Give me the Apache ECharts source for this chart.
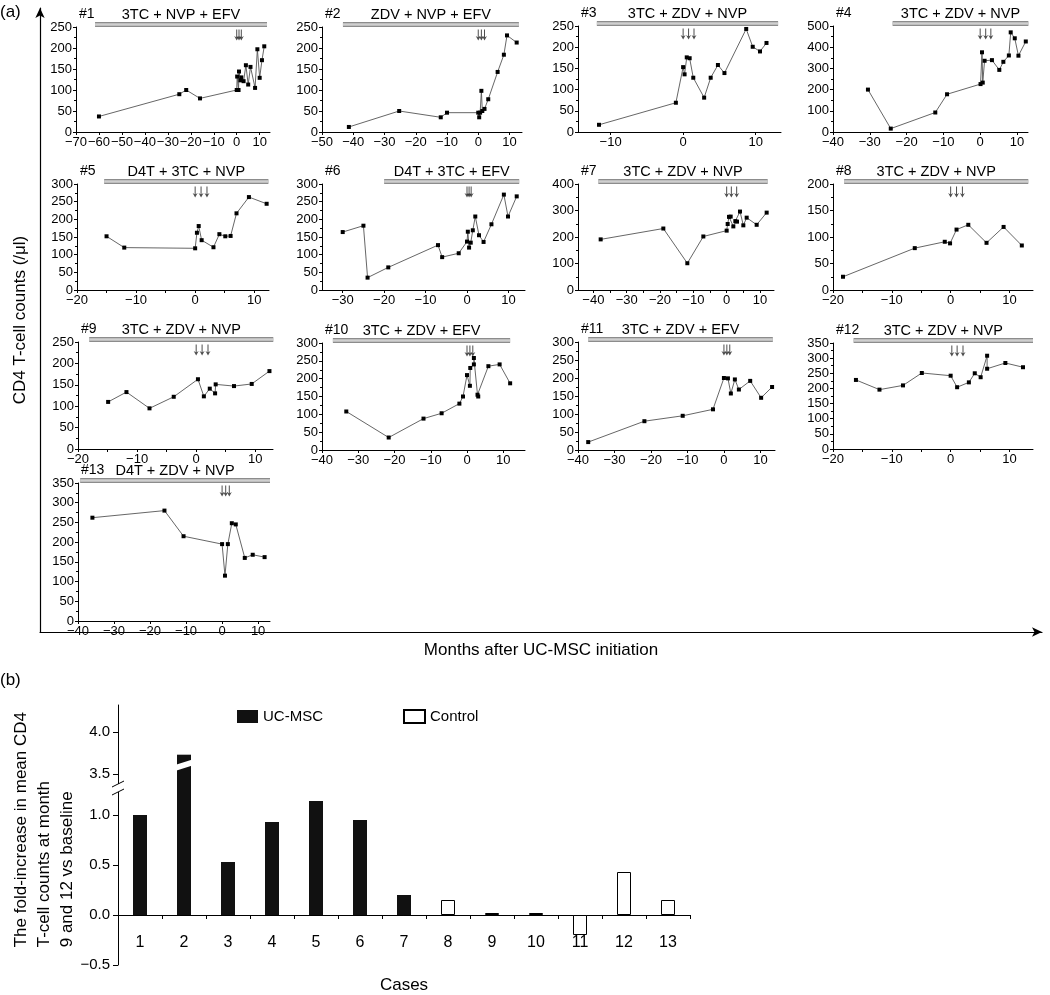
<!DOCTYPE html>
<html><head><meta charset="utf-8">
<script src="https://cdn.jsdelivr.net/npm/echarts@6/dist/echarts.min.js"></script>
<style>html,body{margin:0;padding:0;background:#fff}#c{width:1050px;height:995px}</style>
</head><body><div id="c"></div>
<script>
// ================= DATA =================
const caseIds = ['#1','#2','#3','#4','#5','#6','#7','#8','#9','#10','#11','#12','#13'];
const regimens = ['3TC + NVP + EFV','ZDV + NVP + EFV','3TC + ZDV + NVP','3TC + ZDV + NVP',
  'D4T + 3TC + NVP','D4T + 3TC + EFV','3TC + ZDV + NVP','3TC + ZDV + NVP',
  '3TC + ZDV + NVP','3TC + ZDV + EFV','3TC + ZDV + EFV','3TC + ZDV + NVP','D4T + ZDV + NVP'];

const months1 = [-60,-25,-22,-16,0,0.2,0.8,1,1.6,2,3,4,5,6,8,9,10,11,12];
const cd4_1   = [37,90,100,80,100,132,100,144,123,130,121,159,113,155,105,197,129,171,204];
const months2 = [-41.4,-25.3,-12,-10,0,0.3,0.6,1,1.3,2,3.2,6.2,8.2,9.2,12.3];
const cd4_2   = [12,50,35,46,46,35,46,98,50,55,78,143,184,230,213];
const months3 = [-11.6,-1,0,0.2,0.5,0.9,1.4,2.9,3.8,4.8,5.7,8.7,9.6,10.6,11.5];
const cd4_3   = [17,69,153,136,176,174,128,81,128,158,139,243,201,190,210];
const months4 = [-30.5,-24.3,-12.2,-9,0.1,0.5,0.7,1.2,3.2,5.2,6.3,7.8,8.3,9.4,10.4,12.4];
const cd4_4   = [200,16,92,178,226,376,233,336,339,293,331,361,470,442,360,427];
const months5 = [-15,-12,0,0.3,0.6,1.1,3.1,4.1,5.1,6,7,9.1,12.1];
const cd4_5   = [152,120,118,162,181,141,121,158,152,153,217,263,244];
const months6 = [-30,-25,-24,-19,-7,-6,-2,0,0.2,0.5,0.9,1.4,2,2.9,4,5.9,8.9,9.9,12];
const cd4_6   = [164,182,35,64,127,93,104,137,165,120,134,169,208,155,136,186,270,208,265];
const months7 = [-37.8,-19,-11.8,-7,0,0.3,0.7,1.2,2,2.6,3.1,4,5,6,9,12];
const cd4_7   = [191,232,101,202,224,249,276,277,240,260,258,296,244,273,246,292];
const months8 = [-18.3,-6.1,-1,-0.1,1,3,6.1,9,12.1];
const cd4_8   = [25,79,91,88,114,123,89,119,84];
const months9 = [-14.9,-11.8,-7.9,-3.8,0.3,1.3,2.3,3.2,3.3,6.4,9.4,12.4];
const cd4_9   = [110,133,95,122,163,123,141,130,151,147,152,182];
const months10 = [-33.3,-21.6,-12,-7,-2.1,-1.1,0,0.8,0.9,1.9,1.9,2.9,3.1,5.9,9,11.9];
const cd4_10   = [108,35,88,103,130,150,210,180,230,240,258,155,150,235,240,187];
const months11 = [-37.2,-21.8,-11.3,-3,0,1.1,1.9,3,4.1,7.2,10.2,13.2];
const cd4_11   = [22,80,95,113,200,199,157,196,168,192,145,175];
const months12 = [-16.1,-12.1,-8.1,-4.9,0,1.1,3.1,4.1,5.1,6.2,6.2,9.3,12.3];
const cd4_12   = [228,196,210,251,242,204,220,250,237,308,265,284,270];
const months13 = [-36,-16,-10.7,0,0.8,1.6,2.7,3.8,6.3,8.5,11.8];
const cd4_13   = [262,280,215,195,115,195,248,245,160,168,162];

// ART (treatment) period, months
const artStart = [-61.7,-43.3,-11.9,-23.8,-15.4,-20,-38.5,-18.1,-18.1,-37,-37.2,-16.5,-39.4];
const artEnd   = [13.2,13.0,13.1,13.1,12.4,12.6,12.3,13.2,13.05,11.9,13.4,14,13.3];
// UC-MSC infusions (months)
const infusions = [[0,1,2],[0,1,2],[0,0.75,1.5],[0,1.5,2.9],[0,1,2],[0,0.5,1],[0,1.4,3],
  [0,1,2],[0,1,2],[0,0.8,1.6],[0,0.8,1.6],[0.2,1.1,2.1],[0,1,2]];

// Panel (b)
const caseLabels = ['1','2','3','4','5','6','7','8','9','10','11','12','13'];
const foldUCMSC  = [1.0,3.73,0.53,0.93,1.14,0.95,0.2,null,null,null,null,null,null];
const foldControl= [null,null,null,null,null,null,null,0.15,0.02,0.02,-0.2,0.43,0.15];

// Tick labels
const xl70 = [-70,-60,-50,-40,-30,-20,-10,0,10];
const xl50 = [-50,-40,-30,-20,-10,0,10];
const xl40 = [-40,-30,-20,-10,0,10];
const xl30 = [-30,-20,-10,0,10];
const xl20 = [-20,-10,0,10];
const xl10 = [-10,0,10];
const bTicksLow = [-0.5,0,0.5,1.0];
const bTicksHigh = [3.5,4.0];

// ================= LAYOUT =================
const monthsAll = [months1,months2,months3,months4,months5,months6,months7,months8,months9,months10,months11,months12,months13];
const cd4All = [cd4_1,cd4_2,cd4_3,cd4_4,cd4_5,cd4_6,cd4_7,cd4_8,cd4_9,cd4_10,cd4_11,cd4_12,cd4_13];
const step5 = (a,b)=>{const r=[];for(let v=a;v<=b;v+=5)r.push(v);return r;};
const layout = [
 {l:76, t:27, w:194,h:105,xMin:-70, xMax:14.5,xl:xl70,yMax:250,yStep:50},
 {l:322,t:27, w:200,h:105,xMin:-50, xMax:14,  xl:xl50,yMax:250,yStep:50},
 {l:578,t:26, w:203,h:106,xMin:-14.5,xMax:13.5,xl:xl10,yMax:250,yStep:50},
 {l:833,t:26, w:195,h:106,xMin:-40, xMax:13,  xl:xl40,yMax:500,yStep:100},
 {l:77, t:184,w:192,h:106,xMin:-20, xMax:12.5,xl:xl20,xt:step5(-20,10),yMax:300,yStep:50},
 {l:322,t:184,w:203,h:106,xMin:-35, xMax:14,  xl:xl30,yMax:300,yStep:50},
 {l:578,t:184,w:196,h:106,xMin:-44.6,xMax:14.2,xl:xl40,xt:step5(-40,10),yMax:400,yStep:100},
 {l:833,t:184,w:200,h:106,xMin:-20, xMax:14,  xl:xl20,xt:step5(-20,10),yMax:200,yStep:50},
 {l:78, t:342,w:195,h:107,xMin:-20, xMax:13,  xl:xl20,xt:step5(-20,10),yMax:250,yStep:50},
 {l:322,t:343,w:203,h:107,xMin:-40, xMax:16,  xl:xl40,yMax:300,yStep:50},
 {l:578,t:342,w:197,h:108,xMin:-40, xMax:14,  xl:xl40,yMax:300,yStep:50},
 {l:833,t:343,w:200,h:106,xMin:-20, xMax:14,  xl:xl20,xt:step5(-20,10),yMax:350,yStep:50},
 {l:78, t:483,w:192,h:138,xMin:-40, xMax:13.3,xl:xl40,yMax:350,yStep:50}
];

const FONT = '"Liberation Sans", Arial, Helvetica, sans-serif';
const fmt = v => (v < 0 ? '\u2212' + Math.abs(v) : String(v));
const ARROW = 'path://M2,0L3,0L3,8.5L5,7L2.5,12L0,7L2,8.5Z';

const grids=[], xAxes=[], yAxes=[], series=[], titles=[];

layout.forEach((L,i)=>{
  grids.push({left:L.l, top:L.t, width:L.w, height:L.h, outerBoundsMode:'none', containLabel:false});
  xAxes.push({type:'value', gridIndex:i, min:L.xMin, max:L.xMax,
    axisLine:{onZero:false, lineStyle:{color:'#000',width:1}},
    axisTick:{length:3, customValues:L.xt||L.xl, lineStyle:{color:'#000'}},
    axisLabel:{customValues:L.xl, formatter:fmt, margin:4, fontSize:13, color:'#000', fontFamily:FONT},
    splitLine:{show:false}});
  yAxes.push({type:'value', gridIndex:i, min:0, max:L.yMax, interval:L.yStep,
    axisLine:{show:true, onZero:false, lineStyle:{color:'#000',width:1}},
    axisTick:{show:true, length:3, lineStyle:{color:'#000'}},
    minorTick:{show:true, splitNumber:2, length:2, lineStyle:{color:'#000'}},
    axisLabel:{margin:4, fontSize:13, color:'#000', fontFamily:FONT},
    splitLine:{show:false}});
  const barY = L.yMax*(1+2.5/L.h);
  series.push({type:'line', xAxisIndex:i, yAxisIndex:i, clip:false, symbol:'none', silent:true,
    data:[[artStart[i],barY],[artEnd[i],barY]], lineStyle:{color:'#8c8c8c',width:5,cap:'butt'}, z:1});
  series.push({type:'line', xAxisIndex:i, yAxisIndex:i, clip:false, symbol:'none', silent:true,
    data:[[artStart[i],barY],[artEnd[i],barY]], lineStyle:{color:'#cfcfcf',width:2.5,cap:'butt'}, z:2});
  series.push({type:'scatter', xAxisIndex:i, yAxisIndex:i, clip:false, silent:true,
    data:infusions[i].map(m=>[m,L.yMax]), symbol:ARROW, symbolSize:[5,11], symbolOffset:[0,8],
    itemStyle:{color:'#222'}, z:3});
  series.push({type:'line', xAxisIndex:i, yAxisIndex:i,
    data:monthsAll[i].map((m,k)=>[m,cd4All[i][k]]),
    symbol:'rect', symbolSize:4, itemStyle:{color:'#000'}, lineStyle:{color:'#555',width:0.9}, z:4});
  const pxPer = L.w/(L.xMax-L.xMin);
  const cx = L.l + ((artStart[i]+artEnd[i])/2 - L.xMin)*pxPer;
  const ty = L.t - 2.5 - 9 - 8;
  titles.push({text:caseIds[i], left:L.l+3, top:ty, padding:0,
    textStyle:{fontSize:14, fontWeight:'normal', color:'#000', fontFamily:FONT}});
  titles.push({text:regimens[i], left:cx, textAlign:'center', top:ty, padding:0,
    textStyle:{fontSize:14.5, fontWeight:'normal', color:'#000', fontFamily:FONT}});
});

// big frame axes for panel (a)
const gA = grids.length;
grids.push({left:40, top:8, width:1002, height:624, outerBoundsMode:'none', containLabel:false});
xAxes.push({type:'value', gridIndex:gA, min:0, max:1, axisLine:{onZero:false, symbol:['none','arrow'], symbolSize:[7,10], lineStyle:{color:'#000',width:1.2}},
  axisTick:{show:false}, axisLabel:{show:false}, splitLine:{show:false},
  name:'Months after UC-MSC initiation', nameLocation:'middle', nameGap:10,
  nameTextStyle:{fontSize:17, color:'#000', fontFamily:FONT}});
yAxes.push({type:'value', gridIndex:gA, min:0, max:1, axisLine:{show:true, onZero:false, symbol:['none','arrow'], symbolSize:[7,10], lineStyle:{color:'#000',width:1.2}},
  axisTick:{show:false}, axisLabel:{show:false}, splitLine:{show:false},
  name:'CD4 T-cell counts (/\u03bcl)', nameLocation:'middle', nameGap:11,
  nameTextStyle:{fontSize:17, color:'#000', fontFamily:FONT}});

// panel (b): broken value axis = two adjacent grids
const gL = grids.length, gU = gL+1;
grids.push({left:118, top:785, width:572, height:180, outerBoundsMode:'none', containLabel:false});
grids.push({left:118, top:705, width:572, height:80, outerBoundsMode:'none', containLabel:false});
const fmtB = v => (v<0?'\u2212':'') + Math.abs(v).toFixed(1);
xAxes.push({type:'category', gridIndex:gL, data:caseLabels,
  axisLine:{onZero:true, lineStyle:{color:'#000'}}, axisTick:{show:true, length:4, lineStyle:{color:'#000'}},
  axisLabel:{fontSize:16, margin:-30, color:'#000', fontFamily:FONT},
  name:'Cases', nameLocation:'middle', nameGap:12, nameTextStyle:{fontSize:17, color:'#000', fontFamily:FONT}});
xAxes.push({type:'category', gridIndex:gU, data:caseLabels, show:false});
yAxes.push({type:'value', gridIndex:gL, min:-0.5, max:1.3,
  axisLine:{show:true, onZero:false, lineStyle:{color:'#000'}},
  axisTick:{show:true, length:5, customValues:bTicksLow, lineStyle:{color:'#000'}},
  axisLabel:{customValues:bTicksLow, formatter:fmtB, fontSize:15, margin:8, color:'#000', fontFamily:FONT},
  splitLine:{show:false}});
yAxes.push({type:'value', gridIndex:gU, min:3.37, max:4.32,
  axisLine:{show:true, onZero:false, lineStyle:{color:'#000'}},
  axisTick:{show:true, length:5, customValues:bTicksHigh, lineStyle:{color:'#000'}},
  axisLabel:{customValues:bTicksHigh, formatter:fmtB, fontSize:15, margin:8, color:'#000', fontFamily:FONT},
  splitLine:{show:false}});
const barBase = {type:'bar', barWidth:14, barGap:'-100%'};
series.push(Object.assign({}, barBase, {name:'UC-MSC', xAxisIndex:gL, yAxisIndex:gL, data:foldUCMSC, itemStyle:{color:'#111'}}));
series.push(Object.assign({}, barBase, {name:'Control', xAxisIndex:gL, yAxisIndex:gL, data:foldControl, itemStyle:{color:'#fff', borderColor:'#000', borderWidth:1}}));
series.push(Object.assign({}, barBase, {name:'UC-MSC', xAxisIndex:gU, yAxisIndex:gU, data:foldUCMSC, itemStyle:{color:'#111'}}));

titles.push({text:'(a)', left:0, top:4, padding:0, textStyle:{fontSize:17, fontWeight:'normal', color:'#000', fontFamily:FONT}});
titles.push({text:'(b)', left:0, top:672, padding:0, textStyle:{fontSize:17, fontWeight:'normal', color:'#000', fontFamily:FONT}});

const option = {
  animation:false, backgroundColor:'#fff',
  title:titles, grid:grids, xAxis:xAxes, yAxis:yAxes, series:series,
  legend:{data:['UC-MSC','Control'], left:237, top:709, padding:0, icon:'rect', itemWidth:21, itemHeight:13, itemGap:80,
    textStyle:{fontSize:15, color:'#000', fontFamily:FONT}},
  graphic:[
    {type:'text', left:10, top:712, rotation:Math.PI/2,
      style:{text:'The fold-increase in mean CD4\nT-cell counts at month\n9 and 12 vs baseline', fontSize:17, lineHeight:23, fill:'#000', align:'center', fontFamily:FONT}},
    // axis break
    {type:'rect', shape:{x:114,y:784,width:8,height:8}, style:{fill:'#fff'}, z:100},
    {type:'line', shape:{x1:112,y1:787,x2:124,y2:781}, style:{stroke:'#000', lineWidth:1}, z:101},
    {type:'line', shape:{x1:112,y1:795,x2:124,y2:789}, style:{stroke:'#000', lineWidth:1}, z:101},
    // bar break on case 2
    {type:'polygon', shape:{points:[[175,765],[194,759],[194,765],[175,771]]}, style:{fill:'#fff'}, z:100}
  ]
};
const chart = echarts.init(document.getElementById('c'));
chart.setOption(option);
</script></body></html>
